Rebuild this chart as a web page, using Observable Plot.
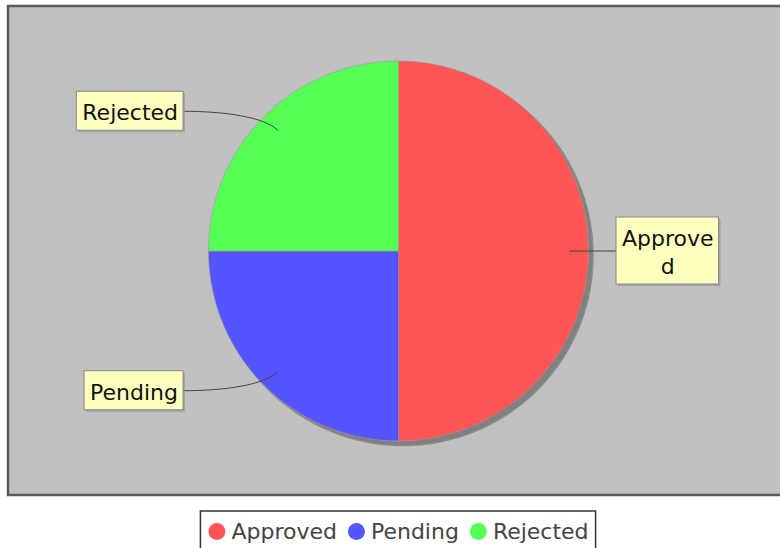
<!DOCTYPE html>
<html><head><meta charset="utf-8">
<script src="https://cdn.jsdelivr.net/npm/d3@7"></script>
<script src="https://cdn.jsdelivr.net/npm/@observablehq/plot@0.6"></script>
<style>body{margin:0;background:#fff} #chart svg{display:block}</style>
</head><body><div id="chart"></div>
<script>
const categories = ["Approved", "Pending", "Rejected"];
const values = [50, 25, 25];
const colors = ["#FF5555", "#5555FF", "#55FF55"];
const labelTexts = ["Approve\nd", "Pending", "Rejected"];

const W = 780, H = 548;
const FONT = "'DejaVu Sans', Verdana, sans-serif";
const FS = 22, LINE_H = 28;
const cx = 398, cy = 250.5, R = 190;
const plotArea = [{x1: 8, y1: 6, x2: 800, y2: 495}];

const ctx = document.createElement("canvas").getContext("2d");
ctx.font = `${FS}px 'DejaVu Sans'`;
const measure = s => ctx.measureText(s).width;

const arcs = d3.pie().sort(null)(values);
const pt = (a, r) => [cx + r * Math.sin(a), cy - r * Math.cos(a)];

// slices
const slices = [];
arcs.forEach((arc, i) => {
  const n = Math.max(2, Math.ceil((arc.endAngle - arc.startAngle) / (Math.PI / 180)));
  slices.push({name: categories[i], color: colors[i], x: cx, y: cy});
  for (let k = 0; k <= n; k++) {
    const a = arc.startAngle + (arc.endAngle - arc.startAngle) * k / n;
    const [x, y] = pt(a, R);
    slices.push({name: categories[i], color: colors[i], x, y});
  }
  slices.push({name: categories[i], color: colors[i], x: cx, y: cy});
});
// shadow
const shadow = [];
for (let k = 0; k <= 360; k++) {
  const [x, y] = pt(k * Math.PI / 180, R);
  shadow.push({x: x + 4.5, y: y + 4.5});
}

// labels & links
const boxes = [], texts = [], links = [];
arcs.forEach((arc, i) => {
  const m = (arc.startAngle + arc.endAngle) / 2;
  const right = Math.sin(m) > 0;
  const lines = labelTexts[i].split("\n");
  const tw = Math.max(...lines.map(measure));
  const bw = tw + 11, bh = lines.length * LINE_H + 11;
  const ly = cy - 1.04 * R * Math.cos(m);
  const [sx, sy] = pt(m, 0.9 * R);
  let bx1, bx2, ex;
  if (right) { bx1 = cx + R + 28; bx2 = bx1 + bw; ex = bx1; }
  else { bx2 = cx - R - 25; bx1 = bx2 - bw; ex = bx2; }
  boxes.push({name: categories[i], x1: bx1, x2: bx2, y1: ly - bh / 2, y2: ly + bh / 2});
  texts.push({name: categories[i], text: labelTexts[i], x: (bx1 + bx2) / 2, y: ly});
  const [c1x, c1y] = pt(m, 1.0 * R);
  const dir = right ? 1 : -1;
  if (Math.abs(ly - sy) < 2) {
    links.push({name: categories[i], x: sx, y: sy}, {name: categories[i], x: (sx + ex) / 2, y: ly}, {name: categories[i], x: (sx + ex) / 2, y: ly}, {name: categories[i], x: ex, y: ly});
  } else {
    links.push({name: categories[i], x: sx, y: sy}, {name: categories[i], x: c1x, y: c1y}, {name: categories[i], x: ex - dir * 40, y: ly}, {name: categories[i], x: ex, y: ly});
  }
});

function cubicCurve(context) {
  let pts = [];
  return {
    areaStart() {}, areaEnd() {},
    lineStart() { pts = []; },
    point(x, y) { pts.push([+x, +y]); },
    lineEnd() {
      if (pts.length === 4) {
        context.moveTo(pts[0][0], pts[0][1]);
        context.bezierCurveTo(pts[1][0], pts[1][1], pts[2][0], pts[2][1], pts[3][0], pts[3][1]);
      } else {
        pts.forEach((p, k) => k ? context.lineTo(p[0], p[1]) : context.moveTo(p[0], p[1]));
      }
    }
  };
}

// legend
const R_DOT = 8.5, DOT_GAP = 6, ITEM_GAP = 11, PAD = 7.5;
const widths = categories.map(measure);
const itemW = widths.map(w => 2 * R_DOT + DOT_GAP + w);
const totalW = d3.sum(itemW) + ITEM_GAP * (categories.length - 1);
const legX0 = cx - totalW / 2;
const legendY = 531;
const legendItems = [];
let xx = legX0;
categories.forEach((c, i) => {
  legendItems.push({name: c, color: colors[i], dx: xx + R_DOT, tx: xx + 2 * R_DOT + DOT_GAP, y: legendY});
  xx += itemW[i] + ITEM_GAP;
});
const legendBox = [{x1: legX0 - PAD, x2: legX0 + totalW + PAD, y1: 511, y2: 560}];

const chart = Plot.plot({
  width: W, height: H, margin: 0,
  x: {domain: [0, W], range: [0, W], axis: null},
  y: {domain: [0, H], range: [0, H], axis: null},
  style: {fontFamily: FONT, background: "#fff"},
  marks: [
    Plot.rect(plotArea, {x1: "x1", x2: "x2", y1: "y1", y2: "y2", fill: "#C0C0C0", stroke: "#5a5a5a", strokeWidth: 2.5}),
    Plot.line(shadow, {x: "x", y: "y", fill: "#808080", stroke: "#8a8a8a", strokeWidth: 1.5}),
    Plot.line(slices, {x: "x", y: "y", z: "name", fill: "color", stroke: "#9a9a9a", strokeWidth: 0.6}),
    Plot.line(links, {x: "x", y: "y", z: "name", stroke: "#444", strokeWidth: 1, curve: cubicCurve}),
    Plot.rect(boxes, {x1: d => d.x1 + 2, x2: d => d.x2 + 2, y1: d => d.y1 + 2, y2: d => d.y2 + 2, fill: "#999", fillOpacity: 0.7}),
    Plot.rect(boxes, {x1: "x1", x2: "x2", y1: "y1", y2: "y2", fill: "#FFFFC0", stroke: "#888", strokeWidth: 1}),
    Plot.text(texts, {x: "x", y: "y", text: "text", fontSize: FS, lineHeight: LINE_H / FS, fill: "#111", textAnchor: "middle", lineAnchor: "middle"}),
    Plot.rect(legendBox, {x1: "x1", x2: "x2", y1: "y1", y2: "y2", fill: "#fff", stroke: "#333", strokeWidth: 1.5}),
    Plot.dot(legendItems, {x: "dx", y: "y", r: R_DOT, fill: "color"}),
    Plot.text(legendItems, {x: "tx", y: "y", text: "name", fontSize: FS, fill: "#444", textAnchor: "start"})
  ]
});
document.getElementById("chart").appendChild(chart);
</script>
</body></html>
